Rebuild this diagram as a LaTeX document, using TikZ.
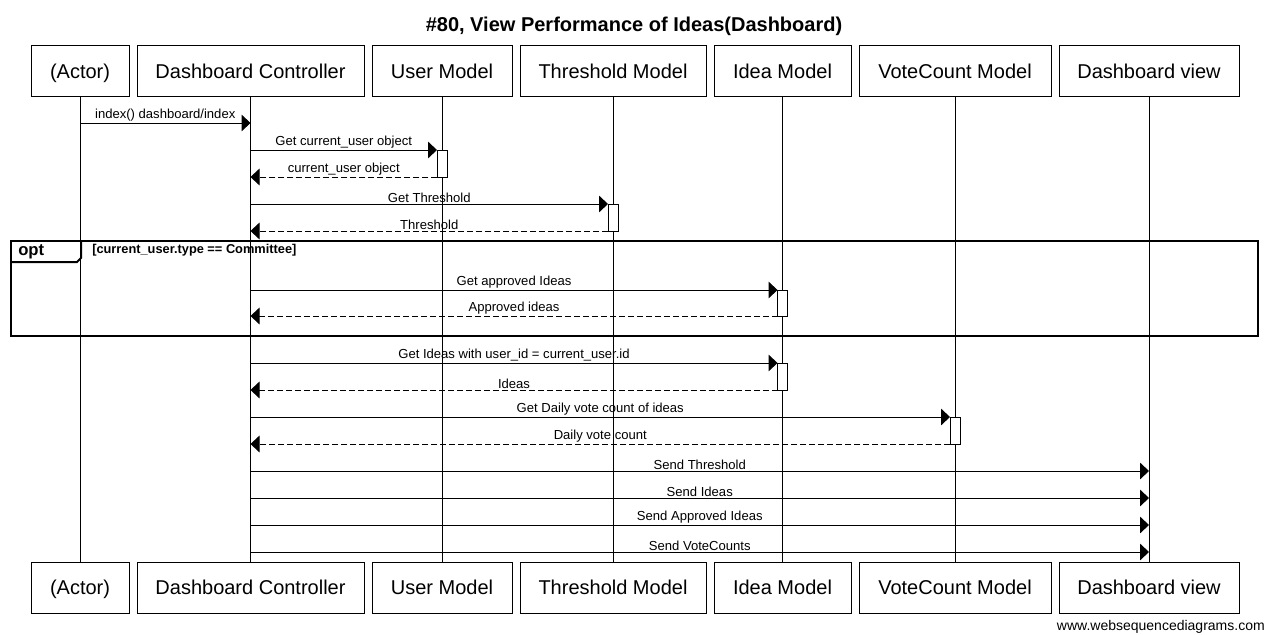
\documentclass[tikz,border=0pt]{standalone}
\usepackage{fontspec}
\setmainfont{Liberation Sans}
\usetikzlibrary{arrows.meta, calc}

\tikzset{
  party/.style={draw, line width=0.75pt, inner sep=0pt, minimum height=38.25pt,
    text height=12pt, text depth=2pt, font=\fontsize{15}{18}\selectfont},
  lifeline/.style={line width=0.75pt},
  actbox/.style={draw, fill=white, line width=0.75pt},
  call/.style={line width=0.75pt, -{Triangle[length=6.75pt, width=12.5pt]}},
  reply/.style={call, dash pattern=on 4.5pt off 2.25pt},
  msglabel/.style={above, inner sep=1pt, font=\fontsize{9.8}{11}\selectfont},
  optframe/.style={line width=1.5pt},
}

\begin{document}
\begin{tikzpicture}[x=0.75pt, y=-0.75pt]
    % Nền và khung ảnh
    \fill[white] (0,0) rectangle (1267,635);
    \useasboundingbox (0,0) rectangle (1267,635);

    % Tiêu đề
    \node[font=\bfseries\fontsize{15}{18}\selectfont] (title) at (634,26) {\#80, View Performance of Ideas(Dashboard)};

    % Các đối tượng (trên / dưới) và đường đời
    \foreach \name/\cx/\w/\txt in {act/80/98/(Actor), dc/250.5/227/Dashboard Controller,
        um/442/140/User Model, tm/613/186/Threshold Model, im/782.5/137/Idea Model,
        vc/955/192/VoteCount Model, dv/1149/180/Dashboard view} {
        \node[party, minimum width=\w*0.75pt] (\name T) at (\cx,71.5) {\txt};
        \node[party, minimum width=\w*0.75pt] (\name B) at (\cx,587.5) {\txt};
        \draw[lifeline] (\name T) -- (\name B);
    }

    % Khung opt
    \draw[optframe] (11,241) rectangle (1258,336);
    \draw[optframe] (11,262) -- (77,262) -- (81,258) -- (81,241);
    \node[anchor=west, inner sep=0pt, font=\bfseries\fontsize{12.5}{14}\selectfont] (optlbl) at (18,252) {opt};
    \node[anchor=west, inner sep=0pt, font=\bfseries\fontsize{9.6}{11}\selectfont] (guard) at (92,250) {[current\_user.type == Committee]};

    % Hộp kích hoạt
    \foreach \name/\ya/\yb in {um/150/177, tm/204/231, im/290/316, im/363/390, vc/417/444}
        \draw[actbox] ([xshift=-3.75pt]\name T.south |- 0,\ya) rectangle ([xshift=3.75pt]\name T.south |- 0,\yb);

    % Thông điệp gọi
    \foreach \src/\dst/\y/\off/\txt in {act/dc/123/0/{index() dashboard/index},
        dc/um/150/5/{Get current\_user object}, dc/tm/204/5/{Get Threshold},
        dc/im/290/5/{Get approved Ideas}, dc/im/363/5/{Get Ideas with user\_id = current\_user.id},
        dc/vc/417/5/{Get Daily vote count of ideas}, dc/dv/471/0/{Send Threshold},
        dc/dv/498/0/{Send Ideas}, dc/dv/525/0/{Send Approved Ideas}, dc/dv/552/0/{Send VoteCounts}}
        \draw[call] (\src T.south |- 0,\y) -- ([xshift=-0.75pt*\off]\dst T.south |- 0,\y)
            node[midway, msglabel] {\txt};

    % Thông điệp trả về
    \foreach \src/\y/\txt in {um/177/{current\_user object}, tm/231/{Threshold},
        im/316/{Approved ideas}, im/390/{Ideas}, vc/444/{Daily vote count}}
        \draw[reply] ([xshift=-3.75pt]\src T.south |- 0,\y) -- (dcT.south |- 0,\y)
            node[midway, msglabel] {\txt};

    % Chân trang
    \node[anchor=east, inner sep=0pt, font=\fontsize{10.5}{12}\selectfont] (site) at (1265,627) {www.websequencediagrams.com};
\end{tikzpicture}
\end{document}
